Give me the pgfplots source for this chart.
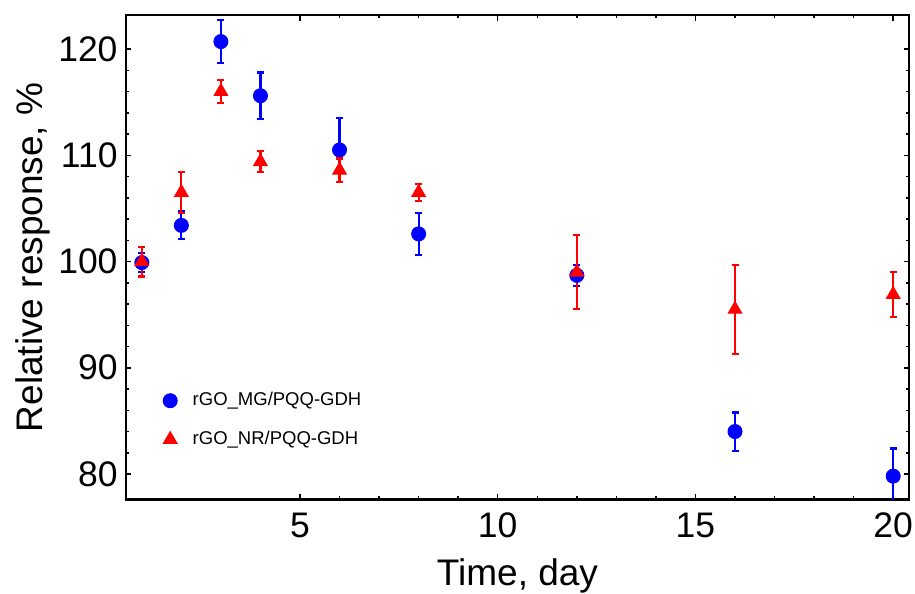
\documentclass[border=0pt]{standalone}
\usepackage{fontspec}
\setmainfont{Liberation Sans}
\usepackage{pgfplots}
\pgfplotsset{compat=1.18}

\definecolor{mblue}{RGB}{0,0,255}
\definecolor{mred}{RGB}{255,0,0}

% MG series: day, mean, error
\pgfplotstableread{
x    y      e
1    99.9   0.9
2    103.4  1.3
3    120.7  2.0
4    115.6  2.2
6    110.5  3.0
8    102.6  2.0
12   98.7   1.0
16   84.0   1.8
20   79.8   2.6
}\mgdata

% NR series
\pgfplotstableread{
x    y      e
1    100.0  1.4
2    106.5  1.9
3    116.0  1.1
4    109.4  1.0
6    108.6  1.1
8    106.5  0.8
12   99.0   3.5
16   95.5   4.2
20   96.9   2.1
}\nrdata

\begin{document}
\begin{tikzpicture}
\begin{axis}[
  name=ax,
  scale only axis,
  width=313.2pt, height=193.8pt,
  xmin=0.6, xmax=20.4,
  ymin=77.6, ymax=123.2,
  xtick={5,10,15,20},
  ytick={80,90,100,110,120},
  minor x tick num=4,
  minor y tick num=4,
  tick align=inside,
  major tick length=2.2pt,
  minor tick length=1.3pt,
  every tick/.style={black, line width=0.6pt},
  axis line style={line width=1.1pt},
  /pgf/number format/assume math mode=true,
  ticklabel style={font=\fontsize{14.2}{16}\selectfont},
  xticklabel style={anchor=north, inner sep=0pt, yshift=-5.2pt},
  yticklabel style={anchor=east, inner sep=0pt, xshift=-3.2pt},
  xlabel={Time, day},
  ylabel={Relative response, \%},
  label style={font=\fontsize{14.8}{17}\selectfont},
  xlabel style={at={(axis description cs:0.5,-0.178)}, anchor=base, inner sep=0pt},
  ylabel style={at={(axis description cs:-0.106,0.5)}, anchor=base, inner sep=0pt},
  legend style={draw=none, fill=none, font=\fontsize{7.4}{9}\selectfont,
    at={(axis description cs:0.032,0.164)}, anchor=west, row sep=4.6pt},
  legend cell align=left,
  legend image code/.code={\draw[#1] plot coordinates {(0.15cm,0cm)};
    \path (0cm,0cm) (0.15cm+6.8pt,0cm);},
]
  \addplot[only marks, mark=*, mark size=2.8pt, color=mblue,
    error bars/.cd, y dir=both, y explicit,
    error bar style={line width=0.9pt},
    error mark options={rotate=90, mark size=1.4pt, line width=0.9pt}]
    table[x=x, y=y, y error=e] {\mgdata};
  \addlegendentry{rGO\_MG/PQQ-GDH}

  \addplot[only marks, mark=triangle*, mark size=3.1pt, color=mred,
    error bars/.cd, y dir=both, y explicit,
    error bar style={line width=0.9pt},
    error mark options={rotate=90, mark size=1.4pt, line width=0.9pt}]
    table[x=x, y=y, y error=e] {\nrdata};
  \addlegendentry{rGO\_NR/PQQ-GDH}
\end{axis}
\pgfresetboundingbox
\path[use as bounding box] ([shift={(-50.4pt,-37.4pt)}]ax.south west) rectangle ([shift={(2.4pt,6pt)}]ax.north east);
\end{tikzpicture}
\end{document}
